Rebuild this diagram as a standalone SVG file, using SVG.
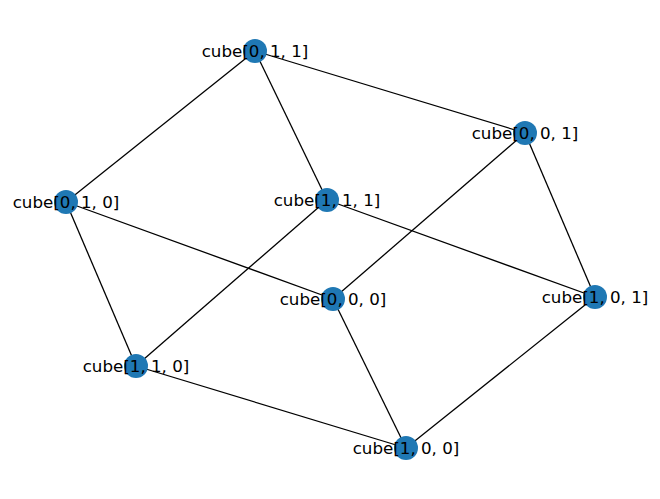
<svg xmlns="http://www.w3.org/2000/svg" width="660" height="499" viewBox="0 0 660 499">
<style>
.e{stroke:#000;stroke-width:1.3;fill:none}
.n circle{fill:#1f78b4}
.n text{font-family:"DejaVu Sans",sans-serif;font-size:16.7px;fill:#000;text-anchor:middle;dominant-baseline:central}
</style>
<rect width="660" height="499" fill="#fff"/>
<g id="edges">
<line class="e" x1="255" y1="51" x2="525" y2="133"/>
<line class="e" x1="255" y1="51" x2="66" y2="202"/>
<line class="e" x1="255" y1="51" x2="327" y2="200"/>
<line class="e" x1="525" y1="133" x2="333" y2="299"/>
<line class="e" x1="525" y1="133" x2="595" y2="297"/>
<line class="e" x1="66" y1="202" x2="333" y2="299"/>
<line class="e" x1="66" y1="202" x2="136" y2="366"/>
<line class="e" x1="327" y1="200" x2="595" y2="297"/>
<line class="e" x1="327" y1="200" x2="136" y2="366"/>
<line class="e" x1="333" y1="299" x2="406" y2="448"/>
<line class="e" x1="595" y1="297" x2="406" y2="448"/>
<line class="e" x1="136" y1="366" x2="406" y2="448"/>
</g>
<g id="n011" class="n"><circle cx="255" cy="51" r="12"/><text x="255" y="51">cube[0, 1, 1]</text></g>
<g id="n001" class="n"><circle cx="525" cy="133" r="12"/><text x="525" y="133">cube[0, 0, 1]</text></g>
<g id="n010" class="n"><circle cx="66" cy="202" r="12"/><text x="66" y="202">cube[0, 1, 0]</text></g>
<g id="n111" class="n"><circle cx="327" cy="200" r="12"/><text x="327" y="200">cube[1, 1, 1]</text></g>
<g id="n000" class="n"><circle cx="333" cy="299" r="12"/><text x="333" y="299">cube[0, 0, 0]</text></g>
<g id="n101" class="n"><circle cx="595" cy="297" r="12"/><text x="595" y="297">cube[1, 0, 1]</text></g>
<g id="n110" class="n"><circle cx="136" cy="366" r="12"/><text x="136" y="366">cube[1, 1, 0]</text></g>
<g id="n100" class="n"><circle cx="406" cy="448" r="12"/><text x="406" y="448">cube[1, 0, 0]</text></g>
</svg>
